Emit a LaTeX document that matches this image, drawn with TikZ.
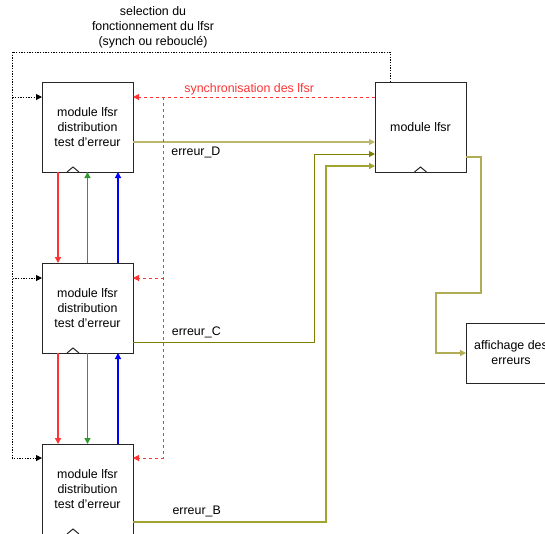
\documentclass[tikz,border=0pt]{standalone}
\usepackage{fontspec}
\setmainfont{Liberation Sans}
\usetikzlibrary{positioning}
\usetikzlibrary{calc}
\usetikzlibrary{arrows.meta}

\definecolor{syncred}{HTML}{FF3333}
\definecolor{linkgreen}{HTML}{339933}
\definecolor{errolive}{HTML}{808000}
\definecolor{errpale}{HTML}{BDB76B}
\definecolor{errmid}{HTML}{A3A330}

\tikzset {
  % drawing tip used by every connector
  tip/.style = {
    -{Triangle[length=4.5pt,width=4.5pt]}
  },
  % module box
  block/.style = {
    draw = black!85,
    line width = 0.75pt,
    rectangle,
    minimum width = 68.25pt,
    minimum height = 67.5pt,
    inner sep = 0pt,
    outer sep = 0pt,
    align = center,
    font = \fontsize{9.3}{11.25}\selectfont
  },
  % clock marker on the bottom edge
  clock/.style = {
    path picture = {
      \draw[black!85, line width=0.75pt]
        ([xshift=#1-4.5pt]path picture bounding box.south west)
        -- ++(4.5pt,3.75pt) -- ++(4.5pt,-3.75pt);
    }
  },
  % selection of the lfsr mode
  sel/.style = {
    tip,
    draw = black,
    line width = 0.75pt,
    dash pattern = on 1pt off 1pt
  },
  % synchronisation
  sync/.style = {
    tip,
    draw = syncred,
    line width = 0.75pt,
    dash pattern = on 2.25pt off 2.25pt
  },
  % links between the modules
  rd/.style = {tip, draw = syncred, fill = syncred, line width = 1pt},
  gr/.style = {tip, draw = linkgreen, fill = linkgreen, line width = 1.3pt},
  bl/.style = {tip, draw = blue, fill = blue, line width = 1pt},
  % error lines
  err/.style = {tip, draw = errmid, line width = 1pt},
  lbl/.style = {font = \fontsize{9.3}{11.25}\selectfont, inner sep = 1pt}
}

\begin{document}
\begin{tikzpicture}[x=0.75pt, y=-0.75pt]
  \useasboundingbox (0,0) rectangle (545,533);

  \node[block, clock=23.25pt] (distA) at (87.5,127) {module lfsr\\distribution\\test d'erreur};
  \node[block, clock=23.25pt] (distB) [below=68.25pt of distA] {module lfsr\\distribution\\test d'erreur};
  \node[block, clock=23.25pt] (distC) [below=68.25pt of distB] {module lfsr\\distribution\\test d'erreur};
  \node[block, clock=34.125pt] (lfsr) [right=181.5pt of distA] {module lfsr};
  \node[block, minimum width=67.5pt, minimum height=45pt, anchor=north west]
    (affich) at ($(lfsr.south east)+(0,151)$) {affichage des\\erreurs};

  \node[lbl, align=center] (selLabel) at (153,27.5) {selection du\\fonctionnement du lfsr\\(synch ou rebouclé)};

  \coordinate (selTop) at ($(lfsr.north west)+(15,-30)$);
  \coordinate (selCorner) at ($(distA.north west)+(-30,-30)$);
  \coordinate (syncSplit) at ($(distA.north east)+(30,15)$);

  % error lines
  \draw[err, draw=errpale, line width=1.5pt] ($(distA.south east)+(0,-30)$)
    -- node[lbl, pos=0.26, below=2pt] {erreur\_D} ($(lfsr.south west)+(0,-30)$);
  \draw[err, draw=errolive, line width=0.75pt] ($(distB.south east)+(0,-11)$)
    -- node[lbl, pos=0.35, above=2pt] {erreur\_C} ++(181,0) |- ($(lfsr.south west)+(0,-18)$);
  \draw[err] ($(distC.north east)+(0,78)$)
    -- node[lbl, pos=0.33, above=2pt] {erreur\_B} ++(193,0) |- ($(lfsr.south west)+(0,-6)$);
  \draw[err, draw=errpale!80!errolive] ($(lfsr.south east)+(0,-15)$) -- ++(15,0)
    |- ($(affich.west)+(-30,-60)$) |- (affich.west);

  % selection
  \draw[sel] ($(lfsr.north west)+(15,0)$) -- (selTop) -- (selCorner) |- ($(distC.north west)+(0,14)$);
  \draw[sel] (selCorner) |- ($(distA.north west)+(0,15)$);
  \draw[sel] (selCorner) |- ($(distB.north west)+(0,15)$);

  % synchronisation
  \draw[sync] ($(lfsr.north west)+(0,15)$) -- node[lbl, pos=0.52, above, text=syncred]
    {synchronisation des lfsr} ($(distA.north east)+(0,15)$);
  \draw[sync] (syncSplit) |- ($(distB.north east)+(0,15)$);
  \draw[sync] (syncSplit) |- ($(distC.north east)+(0,14)$);

  % links between the modules
  \draw[rd] ($(distA.south west)+(16,0)$) -- ($(distB.north west)+(16,0)$);
  \draw[gr] (distB.north) -- (distA.south);
  \draw[bl] ($(distB.north west)+(76,0)$) -- ($(distA.south west)+(76,0)$);
  \draw[rd] ($(distB.south west)+(16,0)$) -- ($(distC.north west)+(16,0)$);
  \draw[gr] (distB.south) -- (distC.north);
  \draw[bl] ($(distC.north west)+(76,0)$) -- ($(distB.south west)+(76,0)$);
\end{tikzpicture}
\end{document}
